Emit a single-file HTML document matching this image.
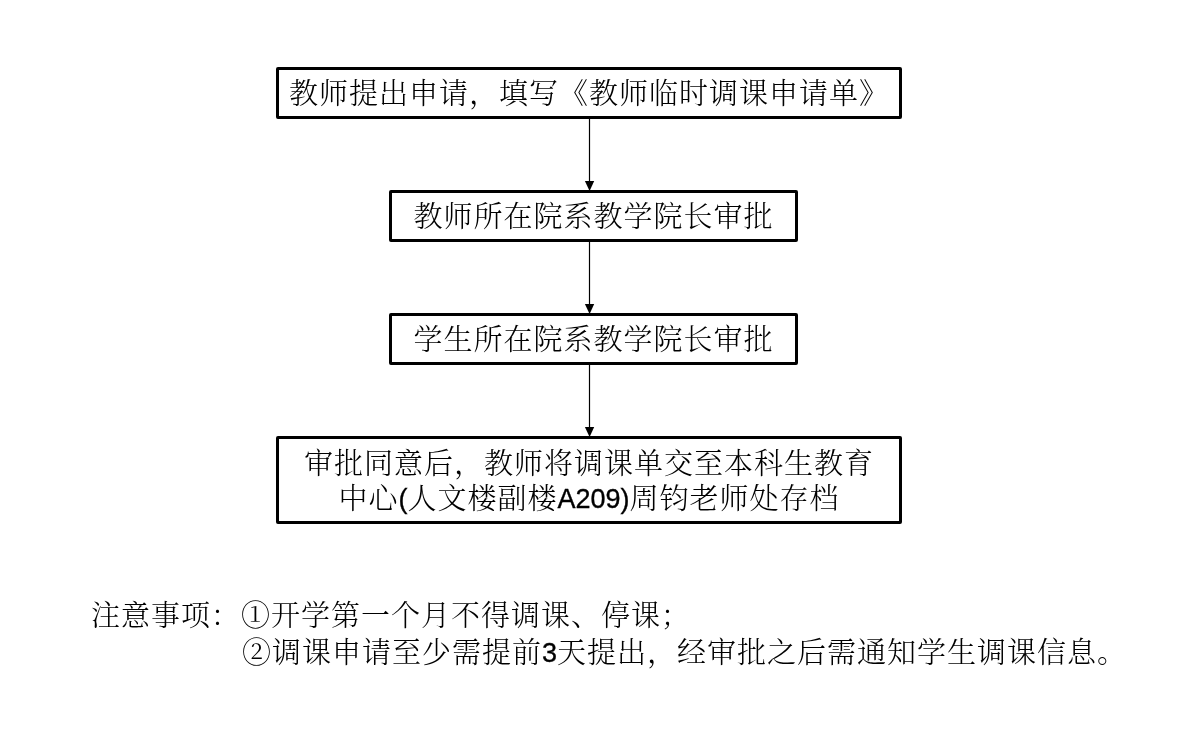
<!DOCTYPE html>
<html lang="zh-CN">
<head>
<meta charset="utf-8">
<title>教师临时调课流程</title>
<style>
html,body{margin:0;padding:0;background:#fff;}
body{width:1196px;height:735px;position:relative;overflow:hidden;
  font-family:"Liberation Sans","Noto Serif CJK SC",serif;color:#000;}
.box{position:absolute;box-sizing:border-box;border:3px solid #000;border-radius:2px;background:#fff;
  font-size:29px;letter-spacing:1px;line-height:36px;text-align:center;white-space:nowrap;font-weight:300;}
.box .t{position:absolute;left:0;right:0;will-change:transform;}
.lat{font-family:"Liberation Sans",sans-serif;font-size:27px;font-weight:400;letter-spacing:0;position:relative;top:-1px;-webkit-text-stroke:0.35px #000;}
.arrow{position:absolute;left:0;top:0;}
.note{will-change:transform;position:absolute;left:91px;font-size:29px;letter-spacing:1px;line-height:36px;white-space:nowrap;font-weight:300;}
</style>
</head>
<body>
<div class="box" id="b1" style="left:276px;top:67px;width:626px;height:52px;"><div class="t" style="top:6px;">教师提出申请，填写《教师临时调课申请单》</div></div>
<div class="box" id="b2" style="left:389px;top:190px;width:409px;height:52px;"><div class="t" style="top:6px;">教师所在院系教学院长审批</div></div>
<div class="box" id="b3" style="left:389px;top:313px;width:409px;height:52px;"><div class="t" style="top:6px;">学生所在院系教学院长审批</div></div>
<div class="box" id="b4" style="left:276px;top:436px;width:626px;height:88px;"><div class="t" style="top:7px;">审批同意后，教师将调课单交至本科生教育</div><div class="t" style="top:42px;">中心<span class="lat">(</span>人文楼副楼<span class="lat">A209)</span>周钧老师处存档</div></div>
<svg class="arrow" width="1196" height="735" viewBox="0 0 1196 735">
  <g stroke="#000" stroke-width="1.2" fill="#000">
    <line x1="589.5" y1="119" x2="589.5" y2="183"/>
    <polygon points="584.9,181 594.2,181 589.6,191" stroke="none"/>
    <line x1="589.5" y1="242" x2="589.5" y2="306"/>
    <polygon points="584.9,304 594.2,304 589.6,314" stroke="none"/>
    <line x1="589.5" y1="365" x2="589.5" y2="429"/>
    <polygon points="584.9,427 594.2,427 589.6,437" stroke="none"/>
  </g>
</svg>
<div class="note" style="top:598px;">注意事项：①开学第一个月不得调课、停课；</div>
<div class="note" style="top:635px;left:242px;">②调课申请至少需提前<span class="lat">3</span>天提出，经审批之后需通知学生调课信息。</div>
</body>
</html>
